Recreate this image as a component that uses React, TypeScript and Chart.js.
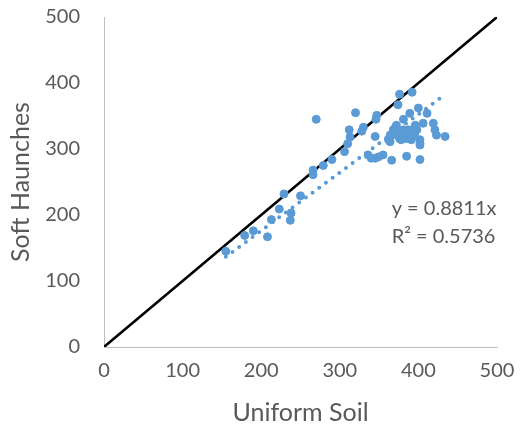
import React, { useEffect, useRef } from "react";
import { Chart, registerables } from "chart.js";

Chart.register(...registerables);

// Scatter data: Uniform Soil (x) vs Soft Haunches (y)
const uniformSoil = [
  155, 179, 190, 208, 213, 223, 229, 237, 238, 250,
  266, 266, 270, 279, 290, 306, 310, 312, 313, 320,
  328, 330, 345, 346, 347, 336, 340, 345, 349, 355,
  366, 385, 402, 362, 364, 364, 366, 368, 370, 372,
  374, 376, 378, 381, 381, 381, 385, 385, 387, 389,
  391, 393, 395, 396, 398, 400, 402, 402, 402, 406,
  411, 419, 421, 423, 434, 374, 376, 392,
];
const softHaunches = [
  145, 169, 176, 167, 193, 209, 232, 192, 203, 229,
  261, 268, 345, 275, 284, 296, 308, 329, 318, 355,
  327, 333, 319, 345, 351, 291, 286, 286, 288, 291,
  283, 289, 284, 314, 311, 321, 321, 329, 331, 336,
  321, 316, 314, 326, 329, 345, 316, 321, 329, 354,
  314, 329, 321, 336, 329, 362, 306, 309, 314, 339,
  354, 339, 329, 321, 319, 367, 383, 386,
];

// 1:1 reference line
const refLineX = [0, 500];
const refLineY = [0, 500];

// Linear trendline (through origin), y = 0.8811x
const trendX = [155, 430];
const trendY = [136.6, 378.9];

const eqLabel = "y = 0.8811x";
const r2Label = "R\u00B2 = 0.5736";
const labelAnchor = [366, 200]; // data units
const labelAnchor2 = [366, 157.5];

const xTitle = "Uniform Soil";
const yTitle = "Soft Haunches";
const axisMin = 0;
const axisMax = 500;
const axisStep = 100;

const FONT = "Lato, 'Open Sans', sans-serif";
const TEXT = "#595959";
const BLUE = "#5B9BD5";

const zeroPad = (s: any) => {
  s.paddingTop = 0;
  s.paddingBottom = 0;
  s.paddingLeft = 0;
  s.paddingRight = 0;
};

export default function App() {
  const ref = useRef<HTMLCanvasElement | null>(null);

  useEffect(() => {
    if (!ref.current) return;
    const eqPlugin = {
      id: "eqLabel",
      afterDatasetsDraw(chart: any) {
        const { ctx, scales } = chart;
        const x = scales.x;
        const y = scales.y;
        ctx.save();
        ctx.font = `20px ${FONT}`;
        ctx.fillStyle = TEXT;
        ctx.textAlign = "left";
        ctx.textBaseline = "alphabetic";
        ctx.fillText(eqLabel, x.getPixelForValue(labelAnchor[0]), y.getPixelForValue(labelAnchor[1]));
        ctx.fillText(r2Label, x.getPixelForValue(labelAnchor2[0]), y.getPixelForValue(labelAnchor2[1]));
        ctx.restore();
      },
    };

    const chart = new Chart(ref.current, {
      type: "scatter",
      data: {
        datasets: [
          {
            label: "1:1",
            type: "line",
            data: refLineX.map((v, i) => ({ x: v, y: refLineY[i] })),
            borderColor: "#000000",
            borderWidth: 2.5,
            pointRadius: 0,
            fill: false,
            order: 2,
          } as any,
          {
            label: "Trend",
            type: "line",
            data: trendX.map((v, i) => ({ x: v, y: trendY[i] })),
            borderColor: BLUE,
            borderWidth: 4,
            borderDash: [0, 8.3],
            borderCapStyle: "round",
            pointRadius: 0,
            fill: false,
            order: 1,
          } as any,
          {
            label: "Data",
            data: uniformSoil.map((v, i) => ({ x: v, y: softHaunches[i] })),
            backgroundColor: BLUE,
            borderColor: BLUE,
            borderWidth: 1,
            pointRadius: 4,
            order: 0,
          },
        ],
      },
      options: {
        animation: false,
        responsive: false,
        devicePixelRatio: 1,
        layout: { padding: { top: 17, right: 24, left: 0, bottom: 0 } },
        plugins: { legend: { display: false }, tooltip: { enabled: false } },
        scales: {
          x: {
            type: "linear",
            min: axisMin,
            max: axisMax,
            ticks: { stepSize: axisStep, color: TEXT, font: { family: FONT, size: 20 }, padding: 12, maxRotation: 0 },
            grid: { display: false, drawTicks: false },
            border: { display: true, color: "#BFBFBF", width: 1 },
            title: { display: true, text: xTitle, color: TEXT, font: { family: FONT, size: 25 }, padding: { top: 0, bottom: 1 } },
            afterFit: (s: any) => { s.height = 82; zeroPad(s); },
          },
          y: {
            type: "linear",
            min: axisMin,
            max: axisMax,
            ticks: { stepSize: axisStep, color: TEXT, font: { family: FONT, size: 20 }, padding: 24 },
            grid: { display: false, drawTicks: false },
            border: { display: true, color: "#BFBFBF", width: 1 },
            title: { display: true, text: yTitle, color: TEXT, font: { family: FONT, size: 25 }, padding: { top: 6, bottom: 0 } },
            afterFit: (s: any) => { s.width = 104; zeroPad(s); },
          },
        },
      },
      plugins: [eqPlugin],
    } as any);
    return () => chart.destroy();
  }, []);

  return (
    <div style={{ position: "fixed", left: 0, top: 0, width: 521, height: 429, background: "#fff" }}>
      <canvas ref={ref} width={521} height={429} />
    </div>
  );
}
